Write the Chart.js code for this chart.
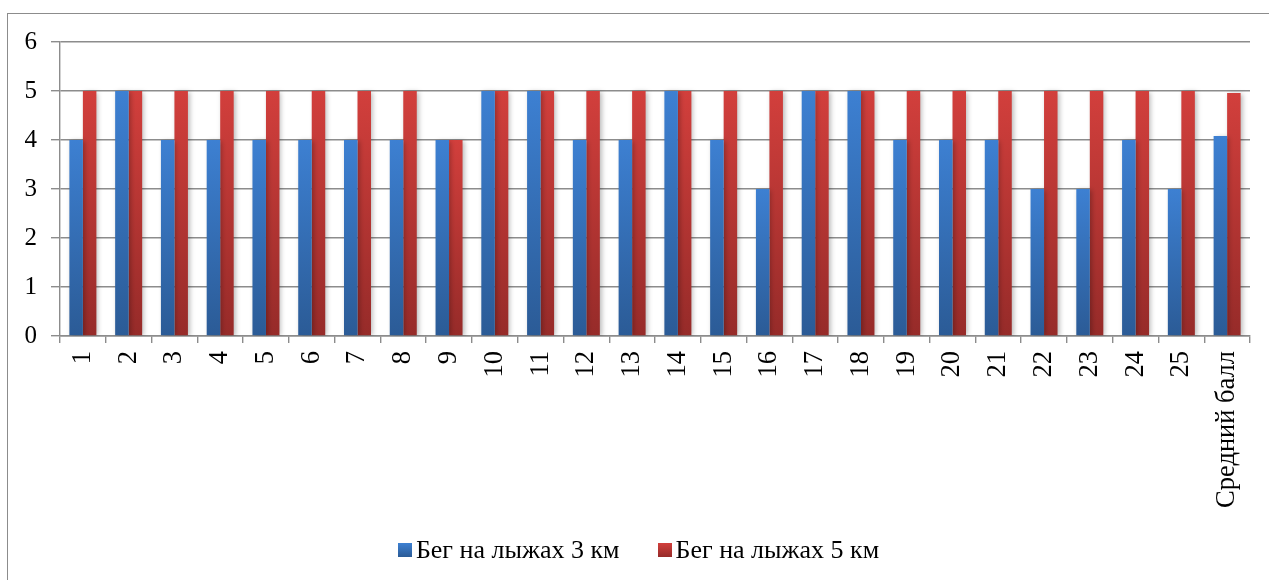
<!DOCTYPE html>
<html>
<head>
<meta charset="utf-8">
<script src="https://cdn.jsdelivr.net/npm/chart.js@4.4.1/dist/chart.umd.min.js"></script>
<style>
  html, body { margin: 0; padding: 0; background: #fff; }
  #wrap { position: relative; width: 1269px; height: 580px; overflow: hidden; }
  #frame { position: absolute; left: 7px; top: 13px; width: 1300px; height: 600px; border: 1.5px solid #8c8c8c; box-sizing: border-box; }
  canvas { position: absolute; left: 0; top: 0; }
</style>
</head>
<body>
<div id="wrap">
  <div id="frame"></div>
  <canvas id="c" width="1269" height="580"></canvas>
</div>
<script>
const categories = ['1','2','3','4','5','6','7','8','9','10','11','12','13','14','15','16','17','18','19','20','21','22','23','24','25','Средний балл'];
const ski3km = [4,5,4,4,4,4,4,4,4,5,5,4,4,5,4,3,5,5,4,4,4,3,3,4,3,4.08];
const ski5km = [5,5,5,5,5,5,5,5,4,5,5,5,5,5,5,5,5,5,5,5,5,5,5,5,5,4.96];
const seriesNames = ['Бег на лыжах 3 км', 'Бег на лыжах 5 км'];
const yTicks = [0,1,2,3,4,5,6];

const FONT = "'Liberation Serif', 'Times New Roman', serif";
const FS_Y = 25;
const FS_X = 26.5;
const FS_L = 26;
const BLUE = ['#3d80d2', '#2b5b96'];
const RED = ['#d23f3c', '#962b29'];

function barGradient(stops) {
  return function(ctx) {
    const chart = ctx.chart;
    const sc = chart.scales && chart.scales.y;
    if (!chart.chartArea || !sc || ctx.raw === undefined) return stops[0];
    const y0 = sc.getPixelForValue(0);
    const y1 = sc.getPixelForValue(ctx.raw);
    if (!isFinite(y0) || !isFinite(y1) || y0 === y1) return stops[0];
    const g = chart.ctx.createLinearGradient(0, y1, 0, y0);
    g.addColorStop(0, stops[0]);
    g.addColorStop(1, stops[1]);
    return g;
  };
}

const shadowPlugin = {
  id: 'barShadow',
  beforeDatasetsDraw(chart) {
    const c = chart.ctx;
    c.save();
    c.shadowColor = 'rgba(0,0,0,0.28)';
    c.shadowBlur = 5;
    c.shadowOffsetX = 2;
    c.shadowOffsetY = 1;
  },
  afterDatasetsDraw(chart) {
    chart.ctx.restore();
  }
};

const legendPlugin = {
  id: 'customLegend',
  afterDraw(chart) {
    const c = chart.ctx;
    c.save();
    c.font = FS_L + 'px ' + FONT;
    c.textBaseline = 'middle';
    c.fillStyle = '#000';
    const box = 14, gapText = 4, gapItems = 38;
    const cy = 550;
    const items = chart.data.datasets.map((ds, i) => ({
      text: ds.label,
      stops: i === 0 ? BLUE : RED,
      w: box + gapText + c.measureText(ds.label).width
    }));
    const total = items.reduce((s, it) => s + it.w, 0) + gapItems * (items.length - 1);
    let x = 638.5 - total / 2;
    items.forEach(it => {
      const g = c.createLinearGradient(0, cy - box / 2, 0, cy + box / 2);
      g.addColorStop(0, it.stops[0]);
      g.addColorStop(1, it.stops[1]);
      c.fillStyle = g;
      c.fillRect(Math.round(x), cy - box / 2, box, box);
      c.fillStyle = '#000';
      c.fillText(it.text, x + box + gapText, cy + 1);
      x += it.w + gapItems;
    });
    c.restore();
  }
};

new Chart(document.getElementById('c'), {
  type: 'bar',
  data: {
    labels: categories,
    datasets: [
      { label: seriesNames[0], data: ski3km, backgroundColor: barGradient(BLUE), borderWidth: 0 },
      { label: seriesNames[1], data: ski5km, backgroundColor: barGradient(RED), borderWidth: 0 }
    ]
  },
  options: {
    responsive: false,
    animation: false,
    events: [],
    layout: { padding: { top: 42, right: 19, left: 0, bottom: 60 } },
    datasets: { bar: { categoryPercentage: 0.59, barPercentage: 1.0 } },
    plugins: {
      legend: { display: false },
      tooltip: { enabled: false },
      title: { display: false }
    },
    scales: {
      y: {
        min: 0, max: 6,
        afterBuildTicks(scale) { scale.ticks = yTicks.map(v => ({ value: v })); },
        afterFit(scale) { scale.width = 60; },
        ticks: { color: '#000', font: { family: FONT, size: FS_Y }, padding: 14 },
        grid: { color: '#8c8c8c', lineWidth: 1.4, tickLength: 9, drawTicks: true },
        border: { color: '#8c8c8c', width: 1.4 }
      },
      x: {
        afterFit(scale) { scale.height = 184; },
        ticks: {
          color: '#000', font: { family: FONT, size: FS_X },
          minRotation: 90, maxRotation: 90, autoSkip: false, padding: 8
        },
        grid: { offset: true, drawOnChartArea: false, drawTicks: true, tickLength: 7, color: '#8c8c8c', lineWidth: 1.4 },
        border: { color: '#8c8c8c', width: 1.4 }
      }
    }
  },
  plugins: [shadowPlugin, legendPlugin]
});
</script>
</body>
</html>
